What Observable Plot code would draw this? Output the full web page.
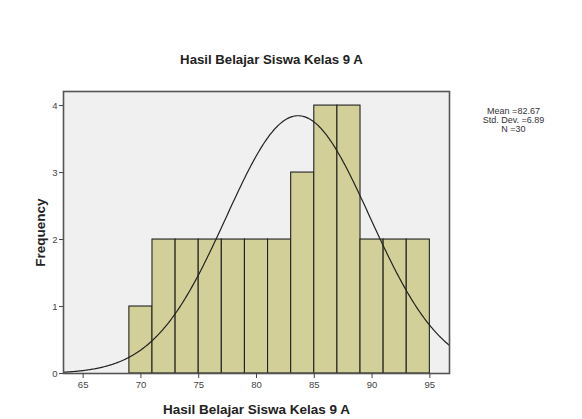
<!DOCTYPE html>
<html>
<head>
<meta charset="utf-8">
<script src="https://cdn.jsdelivr.net/npm/d3@7"></script>
<script src="https://cdn.jsdelivr.net/npm/@observablehq/plot@0.6"></script>
<style>
  html, body { margin: 0; padding: 0; background: #ffffff; }
  #chart { width: 582px; height: 419px; }
  svg { font-family: "Liberation Sans", Arial, sans-serif; }
</style>
</head>
<body>
<div id="chart"></div>
<script>
// ---- data ----
const title = "Hasil Belajar Siswa Kelas 9 A";
const xLabel = "Hasil Belajar Siswa Kelas 9 A";
const yLabel = "Frequency";
const binStarts = [69, 71, 73, 75, 77, 79, 81, 83, 85, 87, 89, 91, 93];
const counts    = [1, 2, 2, 2, 2, 2, 2, 3, 4, 4, 2, 2, 2];
const binWidth = 2;
const xTicks = [65, 70, 75, 80, 85, 90, 95];
const yTicks = [0, 1, 2, 3, 4];
const statsLines = ["Mean =82.67", "Std. Dev. =6.89", "N =30"];
// normal curve as drawn in the picture (centre / spread)
const curveCenter = 83.6;
const curveSd = 6.22;
const nObs = 30;

const bars = binStarts.map((s, i) => ({x1: s, x2: s + binWidth, count: counts[i]}));
const xDomain = [63.3, 96.7];
const curve = d3.range(xDomain[0], xDomain[1] + 0.01, 0.1).map(x => ({
  x,
  y: nObs * binWidth / (curveSd * Math.sqrt(2 * Math.PI)) * Math.exp(-((x - curveCenter) ** 2) / (2 * curveSd * curveSd))
}));

const plot = Plot.plot({
  width: 582,
  height: 419,
  marginLeft: 63,
  marginRight: 133,
  marginTop: 91,
  marginBottom: 46,
  style: {fontFamily: "'Liberation Sans', Arial, sans-serif", background: "#ffffff", overflow: "visible"},
  x: {domain: xDomain, ticks: xTicks, label: null},
  y: {domain: [0, 4.21], ticks: yTicks, label: null},
  marks: [
    Plot.frame({fill: "#f0f0f0"}),
    Plot.rectY(bars, {x1: "x1", x2: "x2", y: "count", fill: "#d3cf98", stroke: "#222", strokeWidth: 1.1}),
    Plot.line(curve, {x: "x", y: "y", stroke: "#222", strokeWidth: 1.2, clip: true}),
    Plot.frame({stroke: "#555", strokeWidth: 1.6}),
    Plot.axisX({ticks: xTicks, tickFormat: "d", tickSize: 5, tickPadding: 3, fontSize: 9.5, fill: "#444", stroke: "#444"}),
    Plot.axisY({ticks: yTicks, tickFormat: "d", tickSize: 4, tickPadding: 2, fontSize: 9.5, fill: "#444", stroke: "#444"}),
    Plot.text([title], {frameAnchor: "top", text: d => d, dy: -37, dx: 15, fontSize: 13.2, fontWeight: "bold", fill: "#222"}),
    Plot.text([xLabel], {frameAnchor: "bottom", text: d => d, dy: 40, fontSize: 13.5, fontWeight: "bold", fill: "#222"}),
    Plot.text([yLabel], {frameAnchor: "left", text: d => d, rotate: -90, textAnchor: "middle", dx: -23, dy: 0, fontSize: 13.5, fontWeight: "bold", fill: "#222"}),
    Plot.text([statsLines.join("\n")], {frameAnchor: "top-right", text: d => d, dx: 64, dy: 16, textAnchor: "middle", lineHeight: 1.0, fontSize: 9, fill: "#333"})
  ]
});
document.getElementById("chart").appendChild(plot);
</script>
</body>
</html>
